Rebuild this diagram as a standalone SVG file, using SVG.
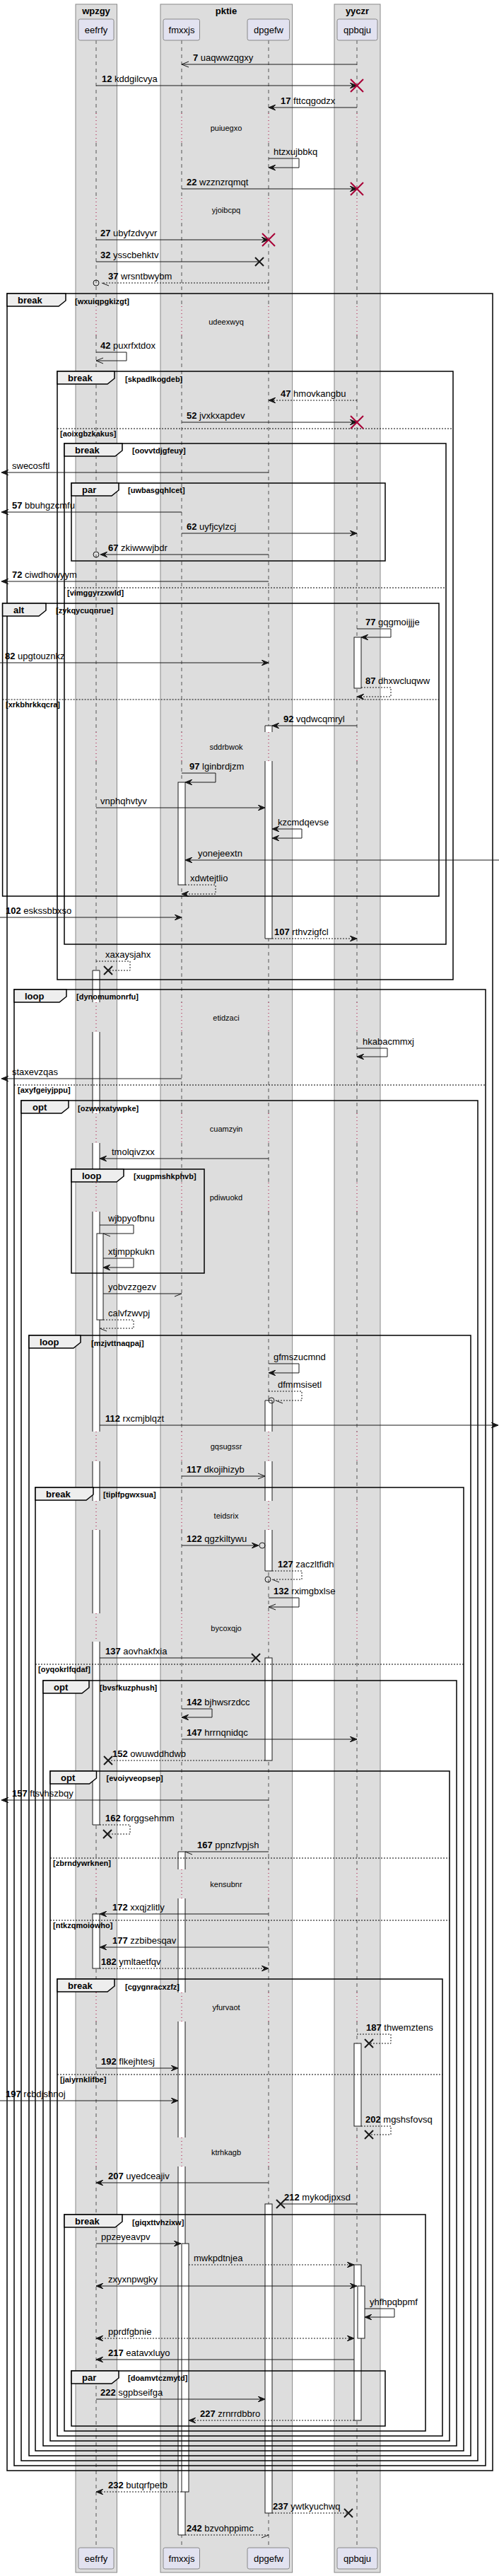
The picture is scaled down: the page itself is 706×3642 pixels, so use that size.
<svg xmlns="http://www.w3.org/2000/svg" xmlns:xlink="http://www.w3.org/1999/xlink" width="706" height="3642" viewBox="0 0 706 3642">
<style>
.grp{fill:#DDDDDD;stroke:#888;stroke-width:1}
.gt{font:bold 13px "Liberation Sans",Arial,sans-serif;text-anchor:middle;fill:#000}
.pb{fill:#E2E2F0;stroke:#888;stroke-width:1}
.pn{font:13px "Liberation Sans",Arial,sans-serif;text-anchor:middle;fill:#000}
.ll{stroke:#555;stroke-width:1;stroke-dasharray:5,5;fill:none}
.dl{stroke:#A80036;stroke-width:1;stroke-dasharray:1,4;fill:none}
.af{fill:#fff;stroke:none}
.as{fill:none;stroke:#181818;stroke-width:1}
.ac{fill:#fff;stroke:#181818;stroke-width:1}
.m{stroke:#181818;stroke-width:1;fill:none}
.d{stroke-dasharray:2,2}
.t{font:13px "Liberation Sans",Arial,sans-serif;fill:#000}
.b{font-weight:bold}
.dt{font:11px "Liberation Sans",Arial,sans-serif;text-anchor:middle;fill:#000}
.fr{fill:none;stroke:#000;stroke-width:1.5}
.tab{fill:#EEEEEE;stroke:#000;stroke-width:1.5}
.fk{font:bold 13px "Liberation Sans",Arial,sans-serif;fill:#000}
.fc{font:bold 11px "Liberation Sans",Arial,sans-serif;fill:#000}
.sep{stroke:#000;stroke-width:1;stroke-dasharray:2,2}
.rx{stroke:#A80036;stroke-width:2;fill:none}
.bx{stroke:#181818;stroke-width:2;fill:none}
.ci{fill:none;stroke:#181818;stroke-width:1}
</style>
<defs>
<marker id="af" viewBox="0 0 10 8" refX="10" refY="4" markerWidth="10" markerHeight="8" markerUnits="userSpaceOnUse" orient="auto-start-reverse"><path d="M0,0L10,4L0,8L4,4Z" fill="#181818" stroke="#181818" stroke-width="1"/></marker>
<marker id="ao" viewBox="0 0 10 8" refX="10" refY="4" markerWidth="10" markerHeight="8" markerUnits="userSpaceOnUse" orient="auto-start-reverse" overflow="visible"><path d="M0,0L10,4L0,8" fill="none" stroke="#181818" stroke-width="1"/></marker>
<marker id="hr" viewBox="0 0 10 8" refX="10" refY="4" markerWidth="10" markerHeight="8" markerUnits="userSpaceOnUse" orient="auto" overflow="visible"><path d="M0,8L10,4" fill="none" stroke="#181818" stroke-width="1"/></marker>
<marker id="hl" viewBox="0 0 10 8" refX="10" refY="4" markerWidth="10" markerHeight="8" markerUnits="userSpaceOnUse" orient="auto" overflow="visible"><path d="M0,0L10,4" fill="none" stroke="#181818" stroke-width="1"/></marker>
<path id="lls" d="M0,57V160M0,202V280M0,315V433M0,474V1035M0,1076V1417M0,1459V1574M0,1616V1672M0,1713V2024M0,2066V2122M0,2163V2281M0,2321V2643M0,2684V2817M0,2858V3022M0,3063V3602"/>
<path id="lld" d="M0,160V202M0,280V315M0,433V474M0,1035V1076M0,1417V1459M0,1574V1616M0,1672V1713M0,2024V2066M0,2122V2163M0,2281V2321M0,2643V2684M0,2817V2858M0,3022V3063"/>
</defs>
<rect width="706" height="3642" fill="#fff"/>
<g id="wpzgy">
<rect class="grp" x="107" y="6" width="58.5" height="3631"/>
<text class="gt" x="136" y="20">wpzgy</text>
</g>
<g id="pktie">
<rect class="grp" x="227" y="6" width="186.6" height="3631"/>
<text class="gt" x="320" y="20">pktie</text>
</g>
<g id="yyczr">
<rect class="grp" x="473" y="6" width="65" height="3631"/>
<text class="gt" x="505.5" y="20">yyczr</text>
</g>
<g id="lifelines">
<use href="#lls" x="136" class="ll"/><use href="#lld" x="136" class="dl"/>
<use href="#lls" x="257" class="ll"/><use href="#lld" x="257" class="dl"/>
<use href="#lls" x="380" class="ll"/><use href="#lld" x="380" class="dl"/>
<use href="#lls" x="505" class="ll"/><use href="#lld" x="505" class="dl"/>
</g>
<g id="eefrfy">
<rect class="pb" x="111" y="27" width="50" height="30" rx="2.5"/><text class="pn" x="136" y="47">eefrfy</text>
<rect class="pb" x="111" y="3602" width="50" height="30" rx="2.5"/><text class="pn" x="136" y="3622">eefrfy</text>
</g>
<g id="fmxxjs">
<rect class="pb" x="231" y="27" width="51.5" height="30" rx="2.5"/><text class="pn" x="257" y="47">fmxxjs</text>
<rect class="pb" x="231" y="3602" width="51.5" height="30" rx="2.5"/><text class="pn" x="257" y="3622">fmxxjs</text>
</g>
<g id="dpgefw">
<rect class="pb" x="350" y="27" width="59.5" height="30" rx="2.5"/><text class="pn" x="380" y="47">dpgefw</text>
<rect class="pb" x="350" y="3602" width="59.5" height="30" rx="2.5"/><text class="pn" x="380" y="3622">dpgefw</text>
</g>
<g id="qpbqju">
<rect class="pb" x="477" y="27" width="57" height="30" rx="2.5"/><text class="pn" x="505.5" y="47">qpbqju</text>
<rect class="pb" x="477" y="3602" width="57" height="30" rx="2.5"/><text class="pn" x="505.5" y="3622">qpbqju</text>
</g>
<g id="activations">
<rect class="af" x="131" y="1372" width="10" height="45"/>
<rect class="af" x="131" y="1459" width="10" height="115"/>
<rect class="af" x="131" y="1616" width="10" height="56"/>
<rect class="af" x="131" y="1713" width="10" height="311"/>
<rect class="af" x="131" y="2066" width="10" height="56"/>
<rect class="af" x="131" y="2163" width="10" height="118"/>
<rect class="af" x="131" y="2321" width="10" height="259"/>
<path class="as" d="M131,1372H141M131,1372V1417M141,1372V1417M131,1459V1574M141,1459V1574M131,1616V1672M141,1616V1672M131,1713V2024M141,1713V2024M131,2066V2122M141,2066V2122M131,2163V2281M141,2163V2281M131,2321V2580M141,2321V2580M131,2580H141"/>
<rect class="ac" x="137" y="1744" width="9" height="122"/>
<rect class="ac" x="131" y="2706" width="10" height="77"/>
<rect class="ac" x="252" y="1106" width="10" height="145"/>
<rect class="af" x="252" y="2618" width="10" height="25"/>
<rect class="af" x="252" y="2684" width="10" height="133"/>
<rect class="af" x="252" y="2858" width="10" height="164"/>
<rect class="af" x="252" y="3063" width="10" height="521"/>
<path class="as" d="M252,2618H262M252,2618V2643M262,2618V2643M252,2684V2817M262,2684V2817M252,2858V3022M262,2858V3022M252,3063V3584M262,3063V3584M252,3584H262"/>
<rect class="ac" x="257" y="3172" width="10" height="351"/>
<rect class="af" x="375" y="1026" width="10" height="9"/>
<rect class="af" x="375" y="1076" width="10" height="251"/>
<path class="as" d="M375,1026H385M375,1026V1035M385,1026V1035M375,1076V1327M385,1076V1327M375,1327H385"/>
<rect class="af" x="375" y="1980" width="10" height="44"/>
<rect class="af" x="375" y="2066" width="10" height="56"/>
<rect class="af" x="375" y="2163" width="10" height="58"/>
<path class="as" d="M375,1980H385M375,1980V2024M385,1980V2024M375,2066V2122M385,2066V2122M375,2163V2221M385,2163V2221M375,2221H385"/>
<rect class="ac" x="375" y="2344" width="10" height="145"/>
<rect class="ac" x="375" y="3116" width="10" height="437"/>
<rect class="ac" x="501" y="901" width="10" height="72"/>
<rect class="ac" x="501" y="2889" width="10" height="117"/>
<rect class="ac" x="501" y="3202" width="10" height="220"/>
<rect class="ac" x="506" y="3232" width="10" height="74"/>
</g>
<g id="delays">
<text class="dt" x="320" y="185">puiuegxo</text>
<text class="dt" x="320" y="301">yjoibcpq</text>
<text class="dt" x="320" y="459">udeexwyq</text>
<text class="dt" x="320" y="1060">sddrbwok</text>
<text class="dt" x="320" y="1443">etidzaci</text>
<text class="dt" x="320" y="1600">cuamzyin</text>
<text class="dt" x="320" y="1697">pdiwuokd</text>
<text class="dt" x="320" y="2049">gqsugssr</text>
<text class="dt" x="320" y="2147">teidsrix</text>
<text class="dt" x="320" y="2306">bycoxqjo</text>
<text class="dt" x="320" y="2668">kensubnr</text>
<text class="dt" x="320" y="2842">yfurvaot</text>
<text class="dt" x="320" y="3047">ktrhkagb</text>
</g>
<g id="frames">
<g id="f1"><rect class="fr" x="10" y="415" width="687" height="3078"/><path class="tab" d="M10,415H93V425L83,433H10Z"/><text class="fk" x="25" y="429">break</text><text class="fc" x="106" y="430">[wxuiqpgkizgt]</text></g>
<g id="f2"><rect class="fr" x="81" y="525" width="560" height="860"/><path class="tab" d="M81,525H162V535L152,543H81Z"/><text class="fk" x="96" y="539">break</text><text class="fc" x="177" y="540">[skpadlkogdeb]</text>
<line class="sep" x1="81" y1="606" x2="641" y2="606"/><text class="fc" x="85" y="617">[aoixgbzkakus]</text></g>
<g id="f3"><rect class="fr" x="91" y="627" width="540" height="708"/><path class="tab" d="M91,627H173V637L163,645H91Z"/><text class="fk" x="106" y="641">break</text><text class="fc" x="187" y="641">[oovvtdjgfeuy]</text>
<line class="sep" x1="91" y1="831" x2="631" y2="831"/><text class="fc" x="95" y="842">[vimggyrzxwld]</text></g>
<g id="f4"><rect class="fr" x="101" y="683" width="444" height="110"/><path class="tab" d="M101,683H168V693L158,701H101Z"/><text class="fk" x="116" y="697">par</text><text class="fc" x="181" y="697">[uwbasgqhlcet]</text></g>
<g id="f5"><rect class="fr" x="3.6" y="853" width="617.4" height="414"/><path class="tab" d="M3.6,853H65V863L55,871H3.6Z"/><text class="fk" x="19" y="867">alt</text><text class="fc" x="79" y="867">[zykqycuqnrue]</text>
<line class="sep" x1="3.6" y1="989" x2="621" y2="989"/><text class="fc" x="8" y="1000">[xrkbhrkkqcra]</text></g>
<g id="f6"><rect class="fr" x="20" y="1399" width="667" height="2087"/><path class="tab" d="M20,1399H94V1409L84,1417H20Z"/><text class="fk" x="35" y="1413">loop</text><text class="fc" x="108" y="1413">[dynomumonrfu]</text>
<line class="sep" x1="20" y1="1534" x2="687" y2="1534"/><text class="fc" x="25" y="1545">[axyfgeiyjppu]</text></g>
<g id="f7"><rect class="fr" x="30" y="1556" width="646" height="1923"/><path class="tab" d="M30,1556H97V1566L87,1574H30Z"/><text class="fk" x="46" y="1570">opt</text><text class="fc" x="110" y="1571">[ozwwxatywpke]</text></g>
<g id="f8"><rect class="fr" x="101" y="1653" width="188" height="147"/><path class="tab" d="M101,1653H175V1663L165,1671H101Z"/><text class="fk" x="116" y="1667">loop</text><text class="fc" x="189" y="1667">[xugpmshkphvb]</text></g>
<g id="f9"><rect class="fr" x="41" y="1888" width="625" height="1584"/><path class="tab" d="M41,1888H114V1898L104,1906H41Z"/><text class="fk" x="56" y="1902">loop</text><text class="fc" x="129" y="1903">[mzjvttnaqpaj]</text></g>
<g id="f10"><rect class="fr" x="50" y="2103" width="606" height="1362"/><path class="tab" d="M50,2103H132V2113L122,2121H50Z"/><text class="fk" x="65" y="2117">break</text><text class="fc" x="146" y="2117">[tiplfpgwxsua]</text>
<line class="sep" x1="50" y1="2353" x2="656" y2="2353"/><text class="fc" x="54" y="2364">[oyqokrlfqdaf]</text></g>
<g id="f11"><rect class="fr" x="61" y="2376" width="585" height="1082"/><path class="tab" d="M61,2376H126V2386L116,2394H61Z"/><text class="fk" x="76" y="2390">opt</text><text class="fc" x="141" y="2390">[bvsfkuzphush]</text></g>
<g id="f12"><rect class="fr" x="71" y="2504" width="565" height="947"/><path class="tab" d="M71,2504H136.5V2514L126.5,2522H71Z"/><text class="fk" x="86" y="2518">opt</text><text class="fc" x="150.5" y="2518">[evoiyveopsep]</text>
<line class="sep" x1="71" y1="2627" x2="636" y2="2627"/><text class="fc" x="75" y="2638">[zbrndywrknen]</text>
<line class="sep" x1="71" y1="2715" x2="636" y2="2715"/><text class="fc" x="75" y="2726">[ntkzqmoiowho]</text></g>
<g id="f13"><rect class="fr" x="81" y="2798" width="545" height="646"/><path class="tab" d="M81,2798H162V2808L152,2816H81Z"/><text class="fk" x="96" y="2812">break</text><text class="fc" x="177" y="2813">[cgygnracxzfz]</text>
<line class="sep" x1="81" y1="2933" x2="626" y2="2933"/><text class="fc" x="85" y="2944">[jaiyrnklifbe]</text></g>
<g id="f14"><rect class="fr" x="91" y="3131" width="511" height="306"/><path class="tab" d="M91,3131H173V3141L163,3149H91Z"/><text class="fk" x="106" y="3145">break</text><text class="fc" x="187" y="3146">[giqxttvhzixw]</text></g>
<g id="f15"><rect class="fr" x="101" y="3352" width="444" height="78"/><path class="tab" d="M101,3352H168V3362L158,3370H101Z"/><text class="fk" x="116" y="3366">par</text><text class="fc" x="181" y="3366">[doamvtczmytd]</text></g>
</g>
<g id="connectors">
<path class="m" d="M505,91H257" marker-end="url(#ao)"/><text class="t" x="273" y="86"><tspan class="b">7</tspan> uaqwwzqgxy</text>
<path class="m" d="M136,121H505" marker-end="url(#af)"/><path class="rx" d="M496,112L514,130M514,112L496,130"/><text class="t" x="144" y="116"><tspan class="b">12</tspan> kddgilcvya</text>
<path class="m" d="M505,152H380" marker-end="url(#af)"/><text class="t" x="397" y="147"><tspan class="b">17</tspan> fttcqgodzx</text>
<path class="m" d="M380,224H423V237H380" marker-end="url(#af)"/><text class="t" x="387" y="219">htzxujbbkq</text>
<path class="m" d="M257,267H505" marker-end="url(#af)"/><path class="rx" d="M496,258L514,276M514,258L496,276"/><text class="t" x="264" y="262"><tspan class="b">22</tspan> wzznzrqmqt</text>
<path class="m" d="M136,339H380" marker-end="url(#af)"/><path class="rx" d="M371,330L389,348M389,330L371,348"/><text class="t" x="142" y="334"><tspan class="b">27</tspan> ubyfzdvyvr</text>
<path class="m" d="M136,370H367"/><path class="bx" d="M361,364L373,376M373,364L361,376"/><text class="t" x="142" y="365"><tspan class="b">32</tspan> ysscbehktv</text>
<path class="m d" d="M380,400H144" marker-end="url(#hl)"/><circle class="ci" cx="136" cy="400" r="4"/><text class="t" x="153" y="395"><tspan class="b">37</tspan> wrsntbwybm</text>
<path class="m" d="M136,498H179V510H136" marker-end="url(#ao)"/><text class="t" x="142" y="493"><tspan class="b">42</tspan> puxrfxtdox</text>
<path class="m d" d="M505,566H380" marker-end="url(#af)"/><text class="t" x="397" y="561"><tspan class="b">47</tspan> hmovkangbu</text>
<path class="m" d="M257,597H505" marker-end="url(#af)"/><path class="rx" d="M496,588L514,606M514,588L496,606"/><text class="t" x="264" y="592"><tspan class="b">52</tspan> jvxkxapdev</text>
<path class="m" d="M380,668H2" marker-end="url(#af)"/><text class="t" x="17" y="663">swecosftl</text>
<path class="m" d="M257,724H2" marker-end="url(#af)"/><text class="t" x="17" y="719"><tspan class="b">57</tspan> bbuhgzcmfu</text>
<path class="m" d="M257,754H505" marker-end="url(#af)"/><text class="t" x="264" y="749"><tspan class="b">62</tspan> uyfjcylzcj</text>
<path class="m" d="M380,784H142" marker-end="url(#af)"/><circle class="ci" cx="136" cy="784" r="4"/><text class="t" x="153" y="779"><tspan class="b">67</tspan> zkiwwwjbdr</text>
<path class="m" d="M380,822H2" marker-end="url(#af)"/><text class="t" x="17" y="817"><tspan class="b">72</tspan> ciwdhowyym</text>
<path class="m" d="M505,889H553V901H511" marker-end="url(#af)"/><text class="t" x="517" y="884"><tspan class="b">77</tspan> gqgmoijjje</text>
<path class="m" d="M0,937H380" marker-end="url(#af)"/><text class="t" x="7" y="932"><tspan class="b">82</tspan> upgtouznkz</text>
<path class="m d" d="M511,972H553V985H505" marker-end="url(#af)"/><text class="t" x="517" y="967"><tspan class="b">87</tspan> dhxwcluqww</text>
<path class="m" d="M505,1026H385" marker-end="url(#af)"/><text class="t" x="401" y="1021"><tspan class="b">92</tspan> vqdwcqmryl</text>
<path class="m" d="M257,1093H305V1106H262" marker-end="url(#af)"/><text class="t" x="268" y="1088"><tspan class="b">97</tspan> lginbrdjzm</text>
<path class="m" d="M136,1142H375" marker-end="url(#af)"/><text class="t" x="142" y="1137">vnphqhvtyv</text>
<path class="m" d="M385,1172H427V1185H385" marker-start="url(#af)" marker-end="url(#af)"/><text class="t" x="393" y="1167">kzcmdqevse</text>
<path class="m" d="M706,1216H262" marker-end="url(#af)"/><text class="t" x="280" y="1211">yonejeextn</text>
<path class="m d" d="M262,1251H305V1264H257" marker-end="url(#af)"/><text class="t" x="269" y="1246">xdwtejtlio</text>
<path class="m" d="M0,1297H257" marker-end="url(#af)"/><text class="t" x="8" y="1292"><tspan class="b">102</tspan> eskssbbxso</text>
<path class="m d" d="M385,1327H505" marker-end="url(#af)"/><text class="t" x="388" y="1322"><tspan class="b">107</tspan> rthvzigfcl</text>
<path class="m d" d="M136,1359H184V1372H153"/><path class="bx" d="M147,1366L159,1378M159,1366L147,1378"/><text class="t" x="149" y="1354">xaxaysjahx</text>
<path class="m" d="M505,1482H548V1494H505" marker-end="url(#af)"/><text class="t" x="513" y="1477">hkabacmmxj</text>
<path class="m" d="M257,1525H2" marker-end="url(#af)"/><text class="t" x="17" y="1520">staxevzqas</text>
<path class="m" d="M380,1638H141" marker-end="url(#af)"/><text class="t" x="158" y="1633">tmolqivzxx</text>
<path class="m" d="M141,1732H189V1744H146" marker-end="url(#hl)"/><text class="t" x="153" y="1727">wjbpyofbnu</text>
<path class="m" d="M146,1779H189V1792H146" marker-end="url(#af)"/><text class="t" x="153" y="1774">xtjmppkukn</text>
<path class="m" d="M146,1829H257" marker-end="url(#hr)"/><text class="t" x="153" y="1824">yobvzzgezv</text>
<path class="m d" d="M146,1866H189V1878H141" marker-end="url(#hl)"/><text class="t" x="153" y="1861">calvfzwvpj</text>
<path class="m" d="M380,1928H423V1941H380" marker-end="url(#af)"/><text class="t" x="387" y="1923">gfmszucmnd</text>
<path class="m d" d="M380,1967H427V1980H390" marker-end="url(#hl)"/><circle class="ci" cx="384" cy="1980" r="4"/><text class="t" x="393" y="1962">dfmmsisetl</text>
<path class="m" d="M141,2015H705" marker-end="url(#af)"/><text class="t" x="149" y="2010"><tspan class="b">112</tspan> rxcmjblqzt</text>
<path class="m" d="M257,2087H375" marker-end="url(#ao)"/><text class="t" x="264" y="2082"><tspan class="b">117</tspan> dkojihizyb</text>
<path class="m" d="M257,2185H366" marker-end="url(#af)"/><circle class="ci" cx="371" cy="2185" r="4"/><text class="t" x="264" y="2180"><tspan class="b">122</tspan> qgzkiltywu</text>
<path class="m d" d="M385,2221H427V2233H385" marker-end="url(#hl)"/><circle class="ci" cx="379" cy="2233" r="4"/><text class="t" x="393" y="2216"><tspan class="b">127</tspan> zaczltfidh</text>
<path class="m" d="M380,2259H423V2272H380" marker-end="url(#ao)"/><text class="t" x="387" y="2254"><tspan class="b">132</tspan> rximgbxlse</text>
<path class="m" d="M141,2344H362"/><path class="bx" d="M356,2338L368,2350M368,2338L356,2350"/><text class="t" x="149" y="2339"><tspan class="b">137</tspan> aovhakfxia</text>
<path class="m" d="M257,2416H300V2428H257" marker-end="url(#af)"/><text class="t" x="264" y="2411"><tspan class="b">142</tspan> bjhwsrzdcc</text>
<path class="m" d="M257,2459H505" marker-end="url(#af)"/><text class="t" x="264" y="2454"><tspan class="b">147</tspan> hrrnqnidqc</text>
<path class="m d" d="M375,2489H153"/><path class="bx" d="M147,2483L159,2495M159,2483L147,2495"/><text class="t" x="159" y="2484"><tspan class="b">152</tspan> owuwddhdwb</text>
<path class="m" d="M380,2545H2" marker-end="url(#af)"/><text class="t" x="17" y="2540"><tspan class="b">157</tspan> ftsvhszbqy</text>
<path class="m d" d="M141,2580H184V2593H152"/><path class="bx" d="M146,2587L158,2599M158,2587L146,2599"/><text class="t" x="149" y="2575"><tspan class="b">162</tspan> forggsehmm</text>
<path class="m" d="M380,2618H262" marker-end="url(#hl)"/><text class="t" x="279" y="2613"><tspan class="b">167</tspan> ppnzfvpjsh</text>
<path class="m" d="M380,2706H141" marker-end="url(#af)"/><text class="t" x="159" y="2701"><tspan class="b">172</tspan> xxqjzlitly</text>
<path class="m" d="M380,2753H141" marker-end="url(#af)"/><text class="t" x="159" y="2748"><tspan class="b">177</tspan> zzbibesqav</text>
<path class="m d" d="M141,2783H380" marker-end="url(#af)"/><text class="t" x="143" y="2778"><tspan class="b">182</tspan> ymltaetfqv</text>
<path class="m d" d="M505,2876H553V2889H522"/><path class="bx" d="M516,2883L528,2895M528,2883L516,2895"/><text class="t" x="518" y="2871"><tspan class="b">187</tspan> thwemztens</text>
<path class="m" d="M136,2924H252" marker-end="url(#af)"/><text class="t" x="143" y="2919"><tspan class="b">192</tspan> flkejhtesj</text>
<path class="m" d="M0,2970H252" marker-end="url(#af)"/><text class="t" x="8" y="2965"><tspan class="b">197</tspan> rcbdjshnoj</text>
<path class="m d" d="M511,3006H553V3018H522"/><path class="bx" d="M516,3012L528,3024M528,3012L516,3024"/><text class="t" x="517" y="3001"><tspan class="b">202</tspan> mgshsfovsq</text>
<path class="m" d="M380,3086H136" marker-end="url(#af)"/><text class="t" x="153" y="3081"><tspan class="b">207</tspan> uyedceajiv</text>
<path class="m" d="M505,3116H397"/><path class="bx" d="M391,3110L403,3122M403,3110L391,3122"/><text class="t" x="402" y="3111"><tspan class="b">212</tspan> mykodjpxsd</text>
<path class="m" d="M136,3172H256" marker-end="url(#af)"/><text class="t" x="143" y="3167">ppzeyeavpv</text>
<path class="m d" d="M267,3202H501" marker-end="url(#af)"/><text class="t" x="274" y="3197">mwkpdtnjea</text>
<path class="m" d="M136,3232H505" marker-start="url(#af)" marker-end="url(#af)"/><text class="t" x="153" y="3227">zxyxnpwgky</text>
<path class="m" d="M516,3264H558V3276H516" marker-end="url(#af)"/><text class="t" x="523" y="3259">yhfhpqbpmf</text>
<path class="m d" d="M136,3306H501" marker-start="url(#af)" marker-end="url(#af)"/><text class="t" x="153" y="3301">pprdfgbnie</text>
<path class="m" d="M501,3336H136" marker-end="url(#af)"/><text class="t" x="153" y="3331"><tspan class="b">217</tspan> eatavxluyo</text>
<path class="m" d="M136,3392H375" marker-end="url(#af)"/><text class="t" x="142" y="3387"><tspan class="b">222</tspan> sgpbseifga</text>
<path class="m d" d="M501,3422H267" marker-end="url(#af)"/><text class="t" x="283" y="3417"><tspan class="b">227</tspan> zrnrrdbbro</text>
<path class="m d" d="M257,3523H136" marker-end="url(#af)"/><text class="t" x="153" y="3518"><tspan class="b">232</tspan> butqrfpetb</text>
<path class="m d" d="M385,3553H493"/><path class="bx" d="M487,3547L499,3559M499,3547L487,3559"/><text class="t" x="386" y="3548"><tspan class="b">237</tspan> ywtkyuchwq</text>
<path class="m d" d="M262,3584H380" marker-end="url(#hr)"/><text class="t" x="264" y="3579"><tspan class="b">242</tspan> bzvohppimc</text>
</g>
</svg>
